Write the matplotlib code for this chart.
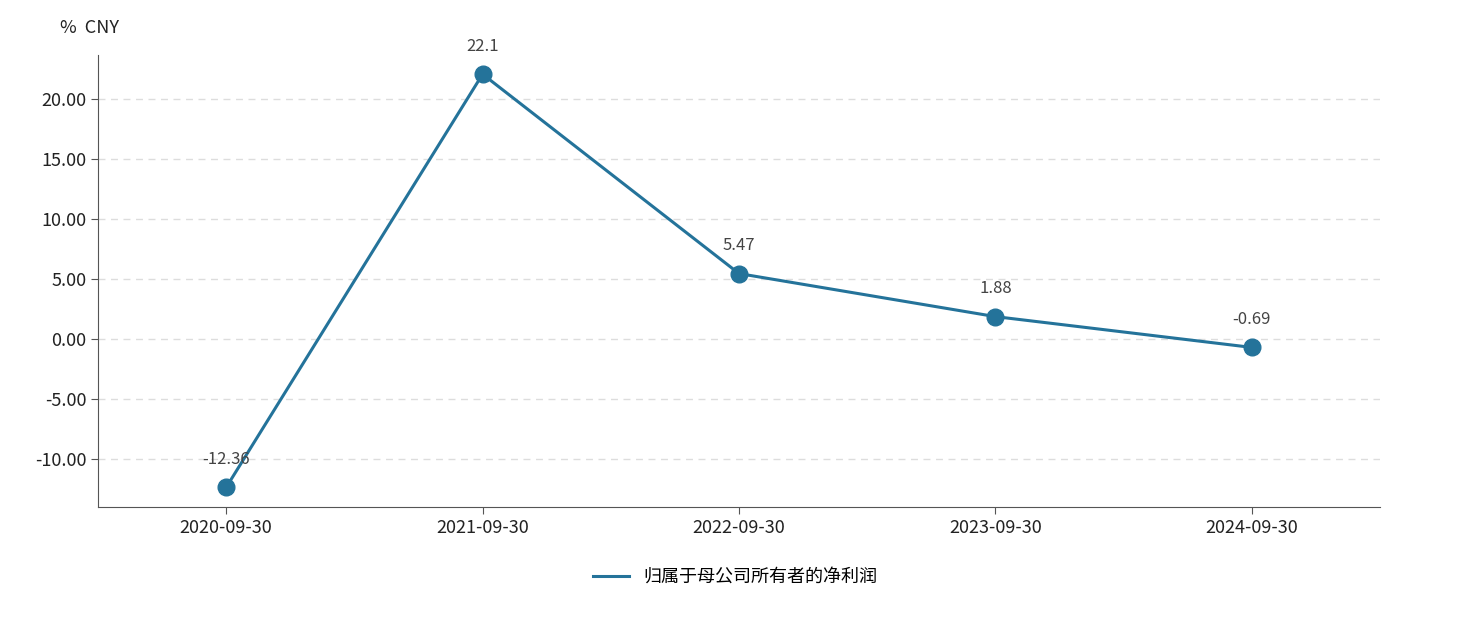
import matplotlib
matplotlib.use("Agg")
import matplotlib.pyplot as plt
from matplotlib import font_manager as fm

categories = ["2020-09-30", "2021-09-30", "2022-09-30", "2023-09-30", "2024-09-30"]
values = [-12.36, 22.1, 5.47, 1.88, -0.69]
labels = ["-12.36", "22.1", "5.47", "1.88", "-0.69"]
series_name = "归属于母公司所有者的净利润"
yticks = [-10, -5, 0, 5, 10, 15, 20]

cjk = None
for f in fm.findSystemFonts():
    if "NotoSansCJK" in f.replace(" ", "") or "Noto Sans CJK" in f:
        try:
            fm.fontManager.addfont(f)
        except Exception:
            pass
        if cjk is None and ("Regular" in f or "SC" in f):
            cjk = f
names = [e.name for e in fm.fontManager.ttflist if "CJK" in e.name]
fam = "Noto Sans CJK SC" if "Noto Sans CJK SC" in names else (names[0] if names else "DejaVu Sans")
plt.rcParams["font.family"] = ["sans-serif"]
plt.rcParams["font.sans-serif"] = [fam, "DejaVu Sans"]

fig = plt.figure(figsize=(14.71, 6.34), dpi=100)
ax = fig.add_axes([98/1471, 1-507/634, (1380-98)/1471, (507-55)/634])
color = "#24739a"
x = list(range(len(categories)))
ax.plot(x, values, color=color, lw=2.2, marker="o", ms=12, label=series_name, zorder=3)
for xi, v, t in zip(x, values, labels):
    ax.annotate(t, (xi, v), xytext=(0, 14), textcoords="offset points", ha="center", va="bottom", fontsize=12, color="#444444")
ax.set_xlim(-0.5, len(categories) - 0.5)
ax.set_ylim(-14.0, 23.7)
ax.set_yticks(yticks)
ax.set_yticklabels([f"{t:.2f}" for t in yticks], fontsize=13)
ax.set_xticks(x)
ax.set_xticklabels(categories, fontsize=13)
ax.grid(axis="y", ls=(0, (5, 4)), color="#dddddd", lw=1)
for s in ["top", "right"]:
    ax.spines[s].set_visible(False)
for s in ["left", "bottom"]:
    ax.spines[s].set_color("#555555")
ax.tick_params(length=5, color="#555555", labelcolor="#222222")
fig.text(60/1471, 1-28/634, "%  CNY", ha="left", va="center", fontsize=13, color="#222222")
fig.legend(loc="lower center", bbox_to_anchor=(0.5, 0.05), frameon=False, fontsize=13, handlelength=2, markerscale=0)
fig.savefig("out.png", dpi=100)
